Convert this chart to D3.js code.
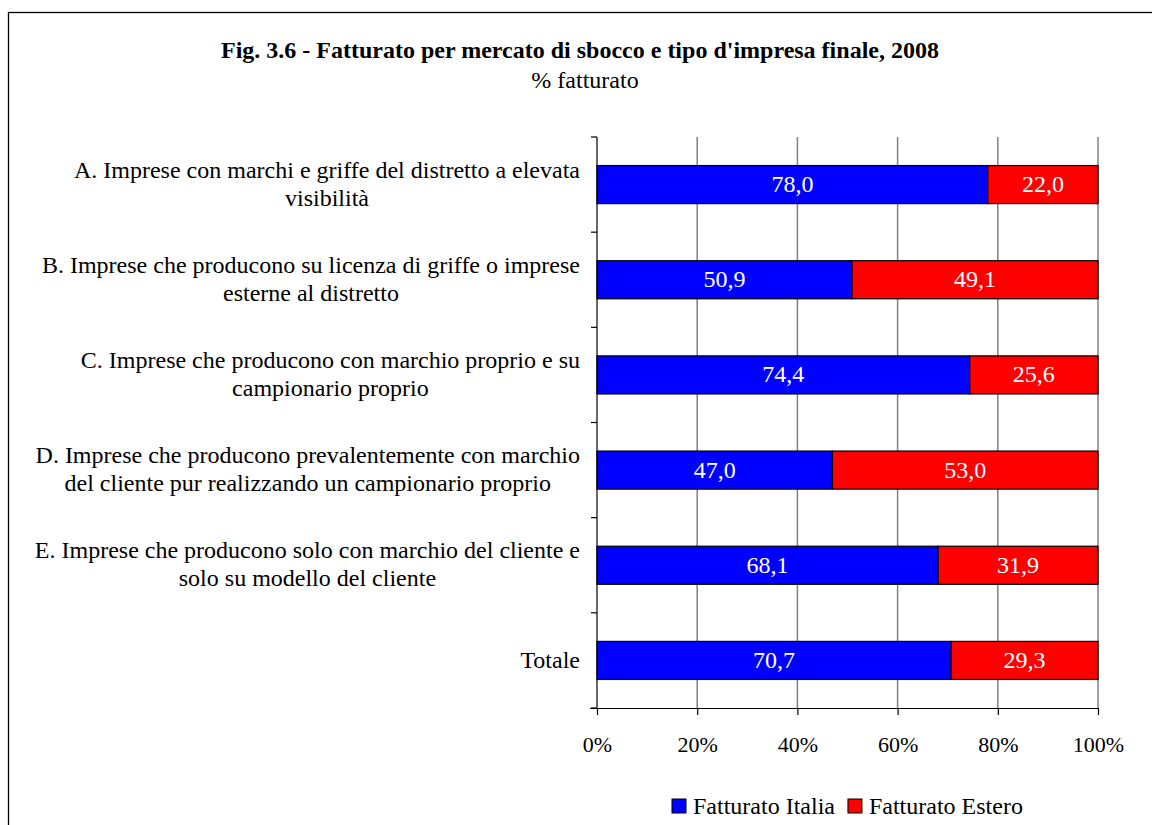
<!DOCTYPE html>
<html>
<head>
<meta charset="utf-8">
<script src="https://cdn.jsdelivr.net/npm/d3@7"></script>
<style>
  html, body { margin: 0; padding: 0; background: #fff; }
  svg { display: block; font-family: "Liberation Serif", "Times New Roman", serif; }
</style>
</head>
<body>
<svg id="chart" width="1152" height="825"></svg>
<script>
// Fatturato per mercato di sbocco — stacked 100% horizontal bars

const categories = [
  ["A. Imprese con marchi e griffe del distretto a elevata", "visibilità"],
  ["B. Imprese che producono su licenza di griffe o imprese", "esterne al distretto"],
  ["C. Imprese che producono con marchio proprio e su", "campionario proprio"],
  ["D. Imprese che producono prevalentemente con marchio", "del cliente pur realizzando un campionario proprio"],
  ["E. Imprese che producono solo con marchio del cliente e", "solo su modello del cliente"],
  ["Totale"]
];
const italia = [78.0, 50.9, 74.4, 47.0, 68.1, 70.7];
const estero = [22.0, 49.1, 25.6, 53.0, 31.9, 29.3];
const seriesNames = ["Fatturato Italia", "Fatturato Estero"];
const seriesColors = ["#0000FF", "#FF0000"];
const xTicks = [0, 20, 40, 60, 80, 100];

const svg = d3.select("#chart");
const plot = { left: 597, right: 1098, top: 137, bottom: 708 };
const fs = 24;

// outer frame (runs off the right/bottom of the picture)
svg.append("rect")
  .attr("x", 8.5).attr("y", 12.5)
  .attr("width", 1200).attr("height", 900)
  .attr("fill", "none").attr("stroke", "#000").attr("stroke-width", 1.3);

svg.append("text")
  .attr("x", 580).attr("y", 58)
  .attr("text-anchor", "middle")
  .attr("font-weight", "bold").attr("font-size", 24)
  .text("Fig. 3.6 - Fatturato per mercato di sbocco e tipo d'impresa finale, 2008");

svg.append("text")
  .attr("x", 585).attr("y", 88)
  .attr("text-anchor", "middle").attr("font-size", 24)
  .text("% fatturato");

const x = d3.scaleLinear().domain([0, 100]).range([plot.left, plot.right]);
const y = d3.scaleBand()
  .domain(d3.range(categories.length))
  .range([plot.top, plot.bottom])
  .paddingInner(0.6).paddingOuter(0.3);

// gridlines
svg.append("g")
  .selectAll("line")
  .data(xTicks.slice(1))
  .join("line")
  .attr("x1", d => x(d)).attr("x2", d => x(d))
  .attr("y1", plot.top).attr("y2", plot.bottom)
  .attr("stroke", "#808080").attr("stroke-width", 1.5);

// stacked bars
const rows = categories.map((c, i) => ({ i, parts: [
  { s: 0, x0: 0, x1: italia[i], v: italia[i] },
  { s: 1, x0: italia[i], x1: italia[i] + estero[i], v: estero[i] }
] }));

const barG = svg.append("g");
rows.forEach(r => {
  r.parts.forEach(p => {
    barG.append("rect")
      .attr("x", x(p.x0)).attr("y", y(r.i))
      .attr("width", x(p.x1) - x(p.x0)).attr("height", y.bandwidth())
      .attr("fill", seriesColors[p.s])
      .attr("stroke", "#000").attr("stroke-width", 1.2);
    barG.append("text")
      .attr("x", (x(p.x0) + x(p.x1)) / 2)
      .attr("y", y(r.i) + y.bandwidth() / 2 + 7.5)
      .attr("text-anchor", "middle")
      .attr("fill", "#fff").attr("font-size", fs)
      .text(d3.format(".1f")(p.v).replace(".", ","));
  });
});

// y axis with boundary ticks
const yAxisG = svg.append("g");
yAxisG.append("line")
  .attr("x1", plot.left).attr("x2", plot.left)
  .attr("y1", plot.top).attr("y2", plot.bottom)
  .attr("stroke", "#000").attr("stroke-width", 1.2);
yAxisG.selectAll("line.tick")
  .data(d3.range(categories.length + 1))
  .join("line").attr("class", "tick")
  .attr("x1", plot.left - 6).attr("x2", plot.left)
  .attr("y1", d => plot.top + d * (plot.bottom - plot.top) / categories.length)
  .attr("y2", d => plot.top + d * (plot.bottom - plot.top) / categories.length)
  .attr("stroke", "#000").attr("stroke-width", 1.2);

// x axis
const xAxisG = svg.append("g")
  .attr("transform", `translate(0,${plot.bottom})`)
  .call(d3.axisBottom(x).tickValues(xTicks).tickSize(7).tickPadding(21).tickFormat(d => d + "%"));
xAxisG.select(".domain").attr("d", `M${plot.left - 7},0.5H${plot.right}`).attr("stroke", "#000").attr("stroke-width", 1.2);
xAxisG.selectAll(".tick line").attr("stroke", "#000").attr("stroke-width", 1.2);
xAxisG.selectAll(".tick text")
  .attr("font-family", "Liberation Serif, Times New Roman, serif")
  .attr("font-size", 22).attr("fill", "#000");

// category labels, Excel-like wrapped and centered
const labelRight = 580;
categories.forEach((lines, i) => {
  const cy = y(i) + y.bandwidth() / 2;
  if (lines.length === 1) {
    svg.append("text")
      .attr("x", labelRight).attr("y", cy + 8)
      .attr("text-anchor", "end").attr("font-size", fs)
      .text(lines[0]);
  } else {
    const t1 = svg.append("text")
      .attr("x", labelRight).attr("y", cy - 7)
      .attr("text-anchor", "end").attr("font-size", fs)
      .text(lines[0]);
    const w1 = t1.node().getComputedTextLength();
    svg.append("text")
      .attr("x", labelRight - w1 / 2).attr("y", cy + 21)
      .attr("text-anchor", "middle").attr("font-size", fs)
      .text(lines[1]);
  }
});

// legend
const legend = svg.append("g").attr("transform", "translate(672,799)");
let lx = 0;
seriesNames.forEach((name, i) => {
  const item = legend.append("g").attr("transform", `translate(${lx},0)`);
  item.append("rect")
    .attr("width", 14).attr("height", 14)
    .attr("fill", seriesColors[i]).attr("stroke", "#000").attr("stroke-width", 1);
  const t = item.append("text")
    .attr("x", 21).attr("y", 15)
    .attr("font-size", fs)
    .text(name);
  lx += 21 + t.node().getComputedTextLength() + 13;
});
</script>
</body>
</html>
